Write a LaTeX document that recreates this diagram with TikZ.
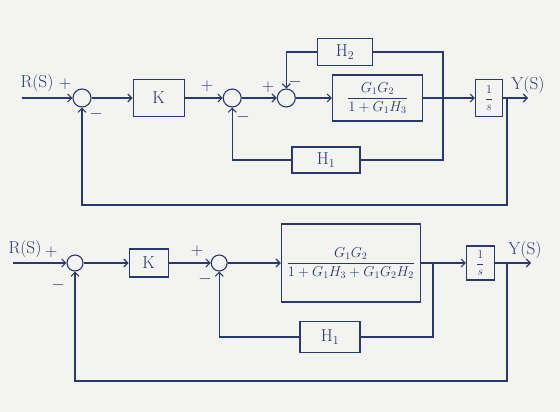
\documentclass[tikz,border=0pt]{standalone}
\usepackage{tikz}
\usepackage{amsmath}
\usetikzlibrary{arrows.meta, positioning, calc}
\definecolor{inkblue}{HTML}{2c3868}
\definecolor{paper}{HTML}{f3f3f1}

\begin{document}
\begin{tikzpicture}[
    x=1pt, y=-1pt,
    every node/.style={text=inkblue},
    sumnode/.style={circle, draw=inkblue, line width=1.1pt, inner sep=0pt, minimum size=18pt},
    blockbox/.style={rectangle, draw=inkblue, line width=1.1pt, inner sep=1pt, font=\LARGE},
    sign/.style={font=\LARGE, inner sep=0pt},
    arrow/.style={-{Straight Barb[length=4pt, width=8pt]}, line width=1.1pt, inkblue},
    wire/.style={line width=1.1pt, inkblue}
]
\fill[paper] (0,0) rectangle (560,412);
\useasboundingbox (0,0) rectangle (560,412);

% upper diagram
\node[sumnode] (sumA) at (82,98) {};
\node[blockbox, right=41pt of sumA, minimum width=51pt, minimum height=37pt] (kA) {K};
\node[sumnode, right=38pt of kA] (sumB) {};
\node[sumnode, right=35pt of sumB] (sumC) {};
\node[blockbox, right=36pt of sumC, minimum width=90pt, minimum height=46pt, font=\Large] (gA) {$\dfrac{G_1G_2}{1+G_1H_3}$};
\node[blockbox, right=52pt of gA, minimum width=27pt, minimum height=37pt, font=\large] (intA) {$\dfrac{1}{s}$};
\node[blockbox, minimum width=55pt, minimum height=27pt] (hTwoA) at (345,52) {H$_2$};
\node[blockbox, minimum width=68pt, minimum height=26pt] (hOneA) at (326,160) {H$_1$};

\coordinate (inA) at (22,98);
\coordinate (outA) at (528,98);
\coordinate (tapGA) at (443,98);
\coordinate (tapYA) at (507,98);

\node[font=\LARGE, anchor=south] (rA) at (37,95) {R(S)};
\node[sign] at (65,84) {$+$};
\node[sign] at (96,114) {$-$};
\node[sign] at (207,86) {$+$};
\node[sign] at (243,117) {$-$};
\node[sign] at (268,87) {$+$};
\node[sign] at (295,82) {$-$};
\node[font=\LARGE, anchor=south] (yA) at (528,97) {Y(S)};

\draw[arrow] (inA) -- (sumA);
\draw[arrow] (sumA) -- (kA);
\draw[arrow] (kA) -- (sumB);
\draw[arrow] (sumB) -- (sumC);
\draw[arrow] (sumC) -- (gA);
\draw[arrow] (gA) -- (intA);
\draw[arrow] (intA) -- (outA);
\draw[wire] (tapGA) |- (hTwoA);
\draw[arrow] (hTwoA.west) -| (sumC.north);
\draw[wire] (tapGA) |- (hOneA);
\draw[arrow] (hOneA.west) -| (sumB.south);
\draw[arrow] (tapYA) -- ++(0,107) -| (sumA.south);

% lower diagram
\node[sumnode, minimum size=16pt] (sumD) at (75,263) {};
\node[blockbox, right=45pt of sumD, minimum width=39pt, minimum height=28pt] (kB) {K};
\node[sumnode, minimum size=16pt, right=42pt of kB] (sumE) {};
\node[blockbox, right=53pt of sumE, minimum width=139pt, minimum height=78pt, font=\Large] (gB) {$\dfrac{G_1G_2}{1+G_1H_3+G_1G_2H_2}$};
\node[blockbox, right=45pt of gB, minimum width=28pt, minimum height=34pt, font=\large] (intB) {$\dfrac{1}{s}$};
\node[blockbox, minimum width=60pt, minimum height=31pt] (hOneB) at (330,337) {H$_1$};

\coordinate (inB) at (13,263);
\coordinate (outB) at (531,263);
\coordinate (tapGB) at (433,263);
\coordinate (tapYB) at (507,263);

\node[font=\LARGE, anchor=south] (rB) at (25,261) {R(S)};
\node[sign] at (51,252) {$+$};
\node[sign] at (58,285) {$-$};
\node[sign] at (197,251) {$+$};
\node[sign] at (205,279) {$-$};
\node[font=\LARGE, anchor=south] (yB) at (525,262) {Y(S)};

\draw[arrow] (inB) -- (sumD);
\draw[arrow] (sumD) -- (kB);
\draw[arrow] (kB) -- (sumE);
\draw[arrow] (sumE) -- (gB);
\draw[arrow] (gB) -- (intB);
\draw[arrow] (intB) -- (outB);
\draw[wire] (tapGB) |- (hOneB);
\draw[arrow] (hOneB.west) -| (sumE.south);
\draw[arrow] (tapYB) -- ++(0,118) -| (sumD.south);

\end{tikzpicture}
\end{document}
